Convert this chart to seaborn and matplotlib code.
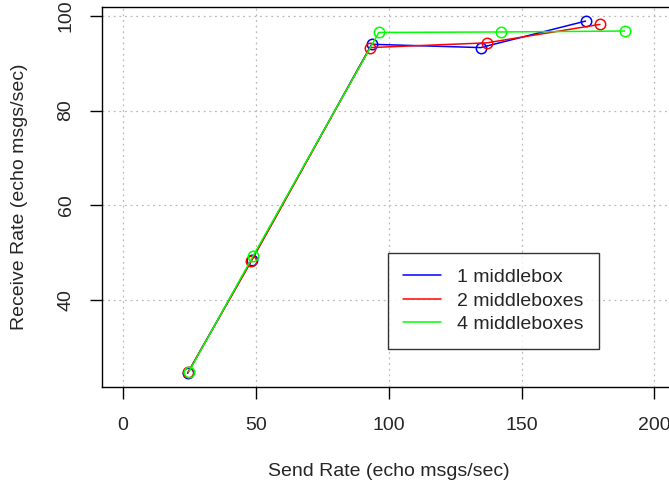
import numpy as np
import pandas as pd
import seaborn as sns
import matplotlib.pyplot as plt
from matplotlib.lines import Line2D

# values
send_1 = [24.3, 48.5, 93.6, 134.6, 174.1]
recv_1 = [24.5, 48.5, 94.0, 93.3, 98.9]
send_2 = [24.5, 48.3, 93.0, 136.9, 179.5]
recv_2 = [24.7, 48.2, 93.3, 94.3, 98.2]
send_4 = [24.8, 49.0, 96.3, 142.3, 188.8]
recv_4 = [24.8, 49.3, 96.5, 96.6, 96.8]
series_names = ["1 middlebox", "2 middleboxes", "4 middleboxes"]
series_colors = ["#0000FF", "#FF0000", "#00FF00"]

df = pd.concat([
    pd.DataFrame({"send": send_1, "recv": recv_1, "config": series_names[0]}),
    pd.DataFrame({"send": send_2, "recv": recv_2, "config": series_names[1]}),
    pd.DataFrame({"send": send_4, "recv": recv_4, "config": series_names[2]}),
])

sns.set_style("white")
plt.rcParams['font.family'] = ['Liberation Sans', 'DejaVu Sans']

fig = plt.figure(figsize=(6.69, 4.86), dpi=100)
ax = fig.add_axes([0.152, 0.203, 0.858, 0.7826])

for name, col in zip(series_names, series_colors):
    sub = df[df["config"] == name]
    sns.lineplot(data=sub, x="send", y="recv", ax=ax, color=col, sort=False,
                 marker="o", markersize=7.5, markerfacecolor="none",
                 markeredgecolor=col, markeredgewidth=1.1, linewidth=1.1,
                 legend=False)

ymin = min(recv_1 + recv_2 + recv_4)
ymax = max(recv_1 + recv_2 + recv_4)
pad = 0.04 * (ymax - ymin)
ax.set_xlim(-8, 208)
ax.set_ylim(ymin - pad, ymax + pad)

ax.set_xticks([0, 50, 100, 150, 200])
ax.set_yticks([40, 60, 80, 100])
ax.grid(True, color="#bbbbbb", linestyle=(0, (1.5, 3)), linewidth=0.9)
ax.set_axisbelow(True)

for sp in ax.spines.values():
    sp.set_color("black")
    sp.set_linewidth(1.0)

ax.tick_params(axis="both", direction="out", length=8.5, width=1.0,
               color="black", labelsize=14, pad=11, bottom=True, left=True)
ax.tick_params(axis="x", pad=13)
for lab in ax.get_yticklabels():
    lab.set_rotation(90)
    lab.set_va("center")

ax.set_xlabel("Send Rate (echo msgs/sec)", fontsize=14, va="center")
ax.set_ylabel("Receive Rate (echo msgs/sec)", fontsize=14, va="center")
ax.xaxis.set_label_coords(0.5, -0.222)
ax.yaxis.set_label_coords(-0.144, 0.5)

handles = [Line2D([0], [0], color=c, linewidth=1.1) for c in series_colors]
leg = ax.legend(handles, series_names, loc="upper left",
                bbox_to_anchor=(0.4985, 0.353), fontsize=14, frameon=True,
                fancybox=False, edgecolor="black", handlelength=1.95,
                handletextpad=0.8, borderpad=0.8, labelspacing=0.3,
                borderaxespad=0)
leg.get_frame().set_linewidth(1.0)

fig.savefig("out.png", dpi=100)
